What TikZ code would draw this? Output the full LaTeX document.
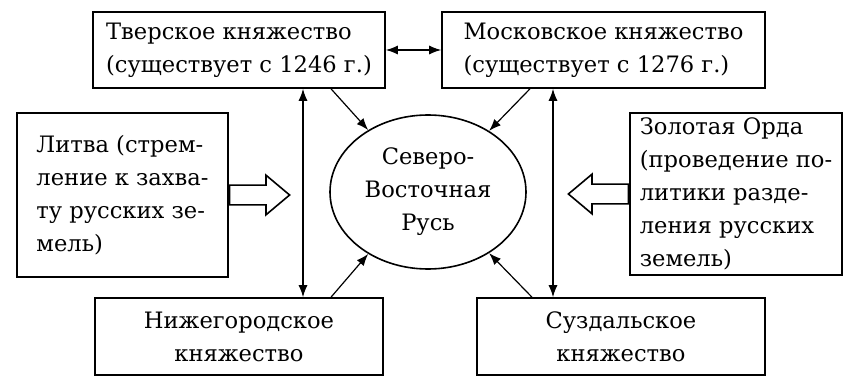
\documentclass[tikz,border=0pt]{standalone}
\usepackage{fontspec}
\setmainfont{DejaVu Serif}
\usetikzlibrary{arrows.meta,positioning,calc,shapes.geometric,shapes.arrows}

\begin{document}
\begin{tikzpicture}[
      x=0.5pt, y=-0.5pt,
      font=\fontsize{11.3}{16.5}\selectfont,
      box/.style={draw, line width=0.8pt, align=left, inner sep=0pt},
      cbox/.style={box, align=center},
      rus/.style={draw, ellipse, line width=0.8pt, align=center, inner sep=0pt,
        minimum width=98pt, minimum height=77pt},
      hollow/.style={single arrow, draw, line width=0.8pt, inner xsep=0pt, inner ysep=4.5pt,
        minimum width=19pt, minimum height=30pt, single arrow head extend=5pt,
        single arrow tip angle=80, anchor=tail},
      arr/.style={-{Latex[length=6pt,width=4.5pt]}, line width=0.6pt},
      dbl/.style={{Latex[length=6pt,width=4.5pt]}-{Latex[length=6pt,width=4.5pt]}, line width=0.6pt},
    ]
    \useasboundingbox (0,0) rectangle (857,390);

    % principalities round the centre
    \node[box, minimum width=146pt, minimum height=38pt] (tver) at (239,50)
      {Тверское княжество\\(существует с 1246 г.)};
    \node[box, minimum width=161.5pt, minimum height=38pt] (mosk) at (603.5,50)
      {Московское княжество\\(существует с 1276 г.)};
    \node[cbox, minimum width=144pt, minimum height=38.5pt] (nizh) at (239,336.5)
      {Нижегородское\\княжество};
    \node[cbox, minimum width=144pt, minimum height=38.5pt] (suzd) at (621,336.5)
      {Суздальское\\княжество};
    \node[rus] (nerus) at (428,192) {Северо-\\Восточная\\Русь};

    % outside forces
    \node[box, minimum width=105.5pt, minimum height=82pt] (litva) at (122.5,195)
      {Литва (стрем-\\ление к захва-\\ту русских зе-\\мель)};
    \node[box, minimum width=106pt, minimum height=81pt] (orda) at (736,194)
      {Золотая Орда\\(проведение по-\\литики разде-\\ления русских\\земель)};
    \node[hollow] (litarr) at (litva.east) {};
    \node[hollow, shape border rotate=180] (ordarr) at (orda.west) {};

    % links
    \coordinate (lv) at (303,0);
    \coordinate (rv) at (553,0);
    \draw[dbl] (tver.east) -- (mosk.west);
    \draw[dbl] (tver.south -| lv) -- (nizh.north -| lv);
    \draw[dbl] (mosk.south -| rv) -- (suzd.north -| rv);
    \draw[arr] ([xshift=46pt]tver.south) -- (nerus.134);
    \draw[arr] ([xshift=-36.75pt]mosk.south) -- (nerus.45);
    \draw[arr] ([xshift=46pt]nizh.north) -- (nerus.226);
    \draw[arr] ([xshift=-44.5pt]suzd.north) -- (nerus.315);
  \end{tikzpicture}
\end{document}
